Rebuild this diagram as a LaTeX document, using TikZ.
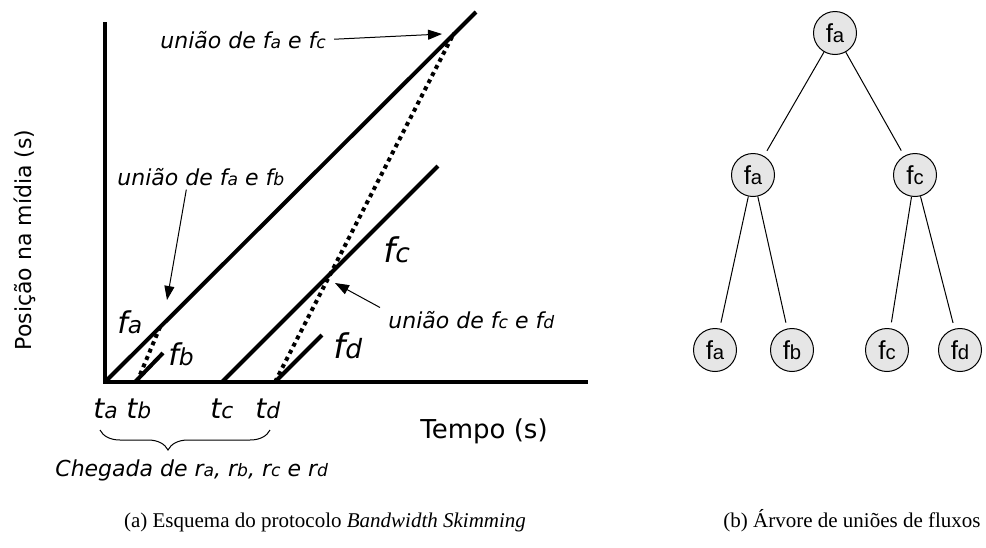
\documentclass[tikz,border=0pt]{standalone}
\usepackage{fontspec}
\usepackage{graphicx}
\setmainfont{Liberation Serif}
\newfontfamily\vfont{DejaVu Sans}[ItalicFont={DejaVu Sans Oblique}]
\newfontfamily\afont{Liberation Sans}
\usetikzlibrary{arrows.meta,positioning,decorations.pathreplacing}
\definecolor{nodegray}{HTML}{E6E6E6}
\newcommand{\lo}[1]{\scalebox{0.78}{#1}}

\begin{document}
\begin{tikzpicture}[x=0.5pt, y=-0.5pt, >={Triangle[length=7pt,width=5pt]},
  flow/.style={line width=2pt},
  merge/.style={line width=2pt, dash pattern=on 2pt off 2pt},
  note/.style={font=\vfont\itshape\fontsize{11}{13}\selectfont, inner sep=0pt, anchor=base west},
  flabel/.style={font=\vfont\itshape\fontsize{#1}{#1}\selectfont, inner sep=0pt, anchor=base west},
  pointer/.style={->, line width=0.5pt},
  tnode/.style={circle, draw, line width=0.5pt, fill=nodegray, minimum size=21.5pt, inner sep=0pt,
    font=\afont\fontsize{13}{13}\selectfont},
  tedge/.style={line width=0.5pt, shorten >=3pt}]
  \useasboundingbox (0,0) rectangle (986,547);

  % (a) esquema
  \coordinate (o) at (105,382);
  \draw[flow] (105,22) -- (o) -- (588,382);
  \draw[flow] (o) -- (476,12);
  \draw[flow] (135,382) -- (163,353);
  \draw[flow] (222,382) -- (438,166);
  \draw[flow] (275,382) -- (322,335);
  \draw[merge] (137,382) -- (160,327);
  \draw[merge] (275,382) -- (454,33);

  \node[note] (jac) at (160,48) {união de f\lo{a} e f\lo{c}};
  \node[note] (jab) at (117,185) {união de f\lo{a} e f\lo{b}};
  \node[note] (jcd) at (388,328) {união de f\lo{c} e f\lo{d}};
  \coordinate (hitac) at (442,34);
  \coordinate (hitab) at (167,300);
  \coordinate (hitcd) at (335,283);
  \draw[pointer, shorten <=4pt] (jac.east) -- (hitac);
  \draw[pointer, shorten <=2pt] ([xshift=35pt]jab.south west) -- (hitab);
  \draw[pointer] ([xshift=-4pt,yshift=1.5pt]jcd.north west) -- (hitcd);

  \node[flabel=15] (fa) at (117,333) {f\lo{a}};
  \node[flabel=15] (fb) at (168,365) {f\lo{b}};
  \node[flabel=17] (fc) at (383,262) {f\lo{c}};
  \node[flabel=17] (fd) at (333,358) {f\lo{d}};

  \node[flabel=14] (ta) at (93,418) {t\lo{a}};
  \node[flabel=14] (tb) at (126,418) {t\lo{b}};
  \node[flabel=14] (tc) at (210,418) {t\lo{c}};
  \node[flabel=14] (td) at (255,418) {t\lo{d}};
  \draw[line width=0.5pt, decorate, decoration={brace, mirror, aspect=0.4, amplitude=10pt}]
    (100,430) -- (270,430);
  \node[note] (arr) at (55,476) {Chegada de r\lo{a}, r\lo{b}, r\lo{c} e r\lo{d}};

  \node[font=\vfont\fontsize{13}{15}\selectfont, inner sep=0pt, anchor=base west] (xlab) at (420,438) {Tempo (s)};
  \node[font=\vfont\fontsize{11}{13}\selectfont, inner sep=0pt, rotate=90] (ylab) at (25,240) {Posição na mídia (s)};

  % (b) arvore
  \node[tnode] (r) at (835,33) {f\lo{a}};
  \node[tnode] (l) at (753,175) {f\lo{a}};
  \node[tnode] (rr) at (915,175) {f\lo{c}};
  \node[tnode] (la) at (715,350) {f\lo{a}};
  \node[tnode] (lb) at (792,350) {f\lo{b}};
  \node[tnode] (rc) at (887,350) {f\lo{c}};
  \node[tnode] (rd) at (960,350) {f\lo{d}};
  \foreach \a/\b in {r/l, r/rr, l/la, l/lb, rr/rc, rr/rd}
    \draw[tedge] (\a) -- (\b);

  % legendas
  \node[font=\fontsize{10.5}{12}\selectfont, anchor=base] (capa) at (325,527)
    {(a)\ Esquema do protocolo \textit{Bandwidth Skimming}};
  \node[font=\fontsize{10.5}{12}\selectfont, anchor=base] (capb) at (852,527)
    {(b)\ Árvore de uniões de fluxos};
\end{tikzpicture}
\end{document}
